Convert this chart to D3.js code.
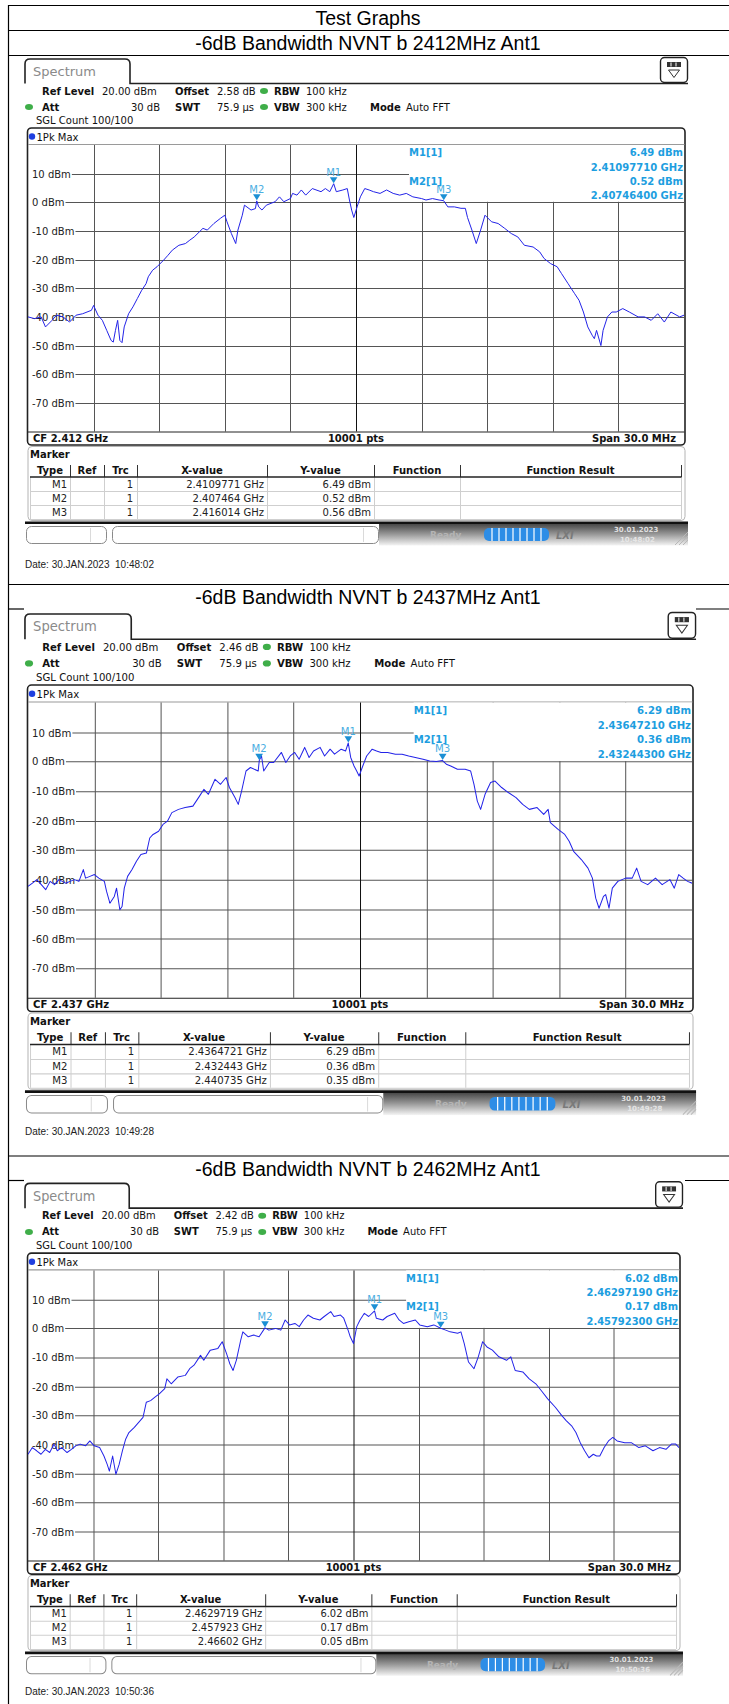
<!DOCTYPE html>
<html>
<head>
<meta charset="utf-8">
<script src="https://cdn.jsdelivr.net/npm/d3@7"></script>
<style>
  body { margin: 0; background: #fff; }
  svg { display: block; }
</style>
</head>
<body>
<div id="chart"></div>
<script>
// ---- data ----
var pageTitle = 'Test Graphs';
var panelTitles = ['-6dB Bandwidth NVNT b 2412MHz Ant1',
                   '-6dB Bandwidth NVNT b 2437MHz Ant1',
                   '-6dB Bandwidth NVNT b 2462MHz Ant1'];
var cfGHz = [2.412, 2.437, 2.462];
var offsetDb = ['2.58', '2.46', '2.42'];
var dateStamps = ['30.JAN.2023  10:48:02', '30.JAN.2023  10:49:28', '30.JAN.2023  10:50:36'];
var clockStamps = ['10:48:02', '10:49:28', '10:50:36'];
var markerNames = ['M1', 'M2', 'M3'];
var markerGHz = [[2.4109771, 2.407464, 2.416014],
                 [2.4364721, 2.432443, 2.440735],
                 [2.4629719, 2.457923, 2.46602]];
var markerDbm = [[6.49, 0.52, 0.56],
                 [6.29, 0.36, 0.35],
                 [6.02, 0.17, 0.05]];
var yTicks = [10, 0, -10, -20, -30, -40, -50, -60, -70];
var tableCols = ['Type', 'Ref', 'Trc', 'X-value', 'Y-value', 'Function', 'Function Result'];

// traces: [offset from CF in MHz, level in dBm]
var trace2412 = [[-15.0,-40.0],[-14.7,-40.6],[-14.4,-40.0],[-14.2,-43.5],[-13.9,-41.2],[-13.7,-39.4],[-13.4,-40.0],[-13.1,-41.8],
  [-12.8,-39.4],[-12.5,-38.9],[-12.1,-37.7],[-12.0,-36.0],[-11.8,-39.4],[-11.6,-41.2],[-11.4,-44.7],[-11.2,-48.2],[-11.1,-48.8],
  [-11.0,-44.7],[-10.9,-41.2],[-10.8,-48.2],[-10.7,-49.0],[-10.6,-43.5],[-10.4,-38.9],[-10.2,-36.5],[-10.0,-33.6],[-9.8,-30.7],
  [-9.6,-28.4],[-9.5,-26.0],[-9.3,-23.7],[-9.1,-22.5],[-8.8,-20.2],[-8.6,-18.5],[-8.4,-16.7],[-8.1,-15.0],[-7.8,-14.4],[-7.6,-13.2],
  [-7.4,-12.1],[-7.0,-9.1],[-6.8,-9.7],[-6.5,-7.4],[-6.2,-5.6],[-6.0,-4.5],[-5.9,-6.8],[-5.7,-10.9],[-5.5,-14.4],[-5.4,-9.7],
  [-5.2,-4.5],[-5.1,-1.0],[-4.8,-2.7],[-4.6,-2.2],[-4.54,0.5],[-4.45,-1.6],[-4.3,-2.7],[-4.1,-1.0],[-3.7,0.2],[-3.5,1.9],[-3.3,0.2],
  [-3.0,1.3],[-2.9,3.1],[-2.7,2.5],[-2.5,4.3],[-2.3,2.5],[-2.0,4.8],[-1.6,3.7],[-1.4,4.8],[-1.2,3.7],[-1.02,6.5],[-0.9,3.7],
  [-0.6,4.3],[-0.4,4.8],[-0.3,0.8],[-0.2,-2.7],[-0.1,-5.3],[0.05,-1.6],[0.2,1.9],[0.4,4.8],[0.6,4.3],[0.8,3.7],[1.1,3.1],
  [1.4,4.3],[1.7,3.1],[2.0,2.5],[2.3,3.1],[2.6,1.9],[3.0,1.3],[3.2,0.8],[3.5,1.3],[3.8,0.8],[4.01,0.56],[4.2,-1.6],[4.5,-1.6],
  [4.8,-2.1],[5.0,-2.1],[5.1,-5.3],[5.3,-9.7],[5.5,-14.4],[5.7,-9.7],[5.9,-4.5],[6.2,-6.8],[6.5,-7.4],[6.8,-9.1],[7.1,-10.9],
  [7.4,-12.1],[7.7,-15.0],[8.1,-15.6],[8.4,-17.3],[8.6,-19.6],[8.9,-21.4],[9.2,-22.5],[9.4,-24.9],[9.7,-28.4],[10.0,-31.9],
  [10.2,-34.2],[10.4,-38.3],[10.6,-43.5],[10.8,-46.4],[10.9,-47.6],[11.0,-44.7],[11.2,-50.0],[11.3,-44.7],[11.5,-40.0],
  [11.7,-38.3],[11.9,-38.3],[12.2,-37.1],[12.5,-38.3],[12.9,-40.0],[13.2,-40.0],[13.5,-41.2],[13.8,-38.9],[14.1,-41.8],
  [14.4,-38.3],[14.8,-40.0],[15.0,-39.4]];

var trace2437 = [[-15.0,-42.3],[-14.8,-41.2],[-14.6,-40.0],[-14.4,-41.7],[-14.2,-43.4],[-14.0,-40.6],[-13.8,-41.7],[-13.6,-40.0],
  [-13.3,-41.2],[-13.1,-40.6],[-12.9,-40.0],[-12.7,-40.6],[-12.5,-36.6],[-12.4,-39.5],[-12.2,-38.9],[-12.0,-38.3],[-11.8,-39.5],
  [-11.55,-40.6],[-11.45,-44.0],[-11.3,-48.0],[-11.1,-45.7],[-11.0,-42.9],[-10.85,-50.2],[-10.75,-49.1],[-10.65,-42.9],
  [-10.5,-38.9],[-10.3,-36.6],[-10.1,-33.8],[-9.9,-31.5],[-9.65,-31.0],[-9.5,-25.9],[-9.35,-24.7],[-9.1,-23.6],[-8.9,-21.3],
  [-8.7,-20.2],[-8.5,-17.3],[-8.2,-16.2],[-7.9,-15.6],[-7.55,-15.1],[-7.25,-11.7],[-7.05,-9.4],[-6.85,-11.1],[-6.55,-6.0],
  [-6.3,-7.7],[-6.05,-5.4],[-5.9,-8.8],[-5.65,-12.2],[-5.5,-14.5],[-5.35,-10.0],[-5.15,-3.2],[-4.95,-2.0],[-4.6,-3.2],
  [-4.55,0.4],[-4.45,1.9],[-4.35,-3.2],[-4.1,-0.3],[-3.9,-0.3],[-3.55,3.1],[-3.35,-0.3],[-3.15,1.9],[-2.95,3.1],[-2.75,0.8],
  [-2.5,4.8],[-2.3,1.4],[-2.1,3.6],[-1.8,4.8],[-1.6,1.9],[-1.35,4.2],[-1.15,2.5],[-0.85,4.2],[-0.65,3.6],[-0.53,6.3],
  [-0.42,1.4],[-0.27,-1.5],[-0.15,-3.2],[-0.04,-4.9],[0.1,-2.0],[0.3,1.9],[0.55,4.2],[0.75,3.6],[0.95,3.1],[1.25,3.1],
  [1.6,2.5],[1.9,2.5],[2.2,1.9],[2.5,1.4],[2.85,0.8],[3.15,0.2],[3.45,0.0],[3.73,0.35],[3.9,-0.9],[4.1,-1.5],[4.4,-2.6],
  [4.75,-2.6],[5.0,-3.2],[5.15,-7.7],[5.3,-13.4],[5.45,-16.2],[5.65,-11.1],[5.9,-7.1],[6.1,-6.6],[6.4,-8.8],[6.7,-10.5],
  [7.05,-12.2],[7.35,-14.5],[7.65,-16.2],[8.0,-15.6],[8.3,-17.9],[8.5,-16.2],[8.6,-20.7],[8.95,-23.0],[9.25,-24.7],[9.45,-27.0],
  [9.65,-30.4],[10.0,-33.2],[10.3,-36.1],[10.5,-39.5],[10.65,-46.3],[10.8,-49.7],[11.0,-45.7],[11.1,-45.1],[11.25,-49.7],
  [11.4,-42.9],[11.65,-40.6],[12.0,-39.5],[12.3,-39.5],[12.5,-36.1],[12.7,-40.6],[13.0,-41.7],[13.35,-39.5],[13.65,-41.7],
  [14.0,-40.0],[14.2,-42.9],[14.4,-38.3],[14.6,-39.5],[14.8,-40.6],[15.0,-41.2]];

var trace2462 = [[-15.0,-43.4],[-14.8,-41.1],[-14.6,-42.2],[-14.4,-43.4],[-14.2,-41.7],[-14.0,-42.8],[-13.8,-39.9],[-13.65,-42.2],
  [-13.45,-41.1],[-13.2,-42.8],[-13.0,-41.7],[-12.8,-40.5],[-12.6,-39.9],[-12.35,-40.5],[-12.15,-38.8],[-11.95,-40.5],
  [-11.7,-41.1],[-11.5,-44.0],[-11.35,-46.9],[-11.25,-49.2],[-11.1,-44.0],[-10.95,-50.3],[-10.8,-46.9],[-10.65,-42.2],
  [-10.5,-38.2],[-10.35,-35.9],[-10.1,-34.1],[-9.9,-32.4],[-9.7,-30.7],[-9.55,-25.5],[-9.35,-24.9],[-9.15,-23.7],[-8.95,-22.6],
  [-8.7,-20.8],[-8.6,-17.4],[-8.4,-19.1],[-8.1,-16.8],[-7.75,-16.2],[-7.55,-13.9],[-7.35,-12.7],[-7.05,-9.3],[-6.9,-11.0],
  [-6.6,-7.5],[-6.25,-6.9],[-6.05,-4.6],[-5.85,-8.7],[-5.7,-12.2],[-5.55,-14.5],[-5.4,-11.0],[-5.2,-4.1],[-5.1,-1.2],
  [-4.85,-2.9],[-4.6,-2.3],[-4.35,-2.9],[-4.08,0.17],[-3.9,-0.6],[-3.6,0.0],[-3.35,-0.6],[-3.15,2.9],[-2.95,1.2],[-2.7,1.7],
  [-2.5,0.6],[-2.3,2.9],[-2.1,4.6],[-1.85,3.5],[-1.55,2.9],[-1.35,4.1],[-1.05,5.8],[-0.9,4.1],[-0.6,4.6],[-0.45,3.5],
  [-0.25,-0.6],[-0.15,-2.9],[0.0,-5.2],[0.15,0.6],[0.3,2.9],[0.5,5.2],[0.7,4.1],[0.97,6.0],[1.05,3.5],[1.35,2.9],[1.55,4.1],
  [1.9,5.2],[2.1,2.9],[2.3,1.7],[2.55,2.3],[2.85,2.9],[3.05,1.2],[3.4,0.6],[3.7,1.2],[4.02,0.05],[4.25,-0.6],[4.45,-1.2],
  [4.8,-1.7],[4.95,-1.2],[5.1,-5.2],[5.3,-11.6],[5.55,-13.9],[5.75,-9.8],[5.95,-4.6],[6.15,-6.4],[6.4,-7.5],[6.7,-9.8],
  [7.05,-11.0],[7.25,-9.8],[7.45,-14.5],[7.8,-15.0],[8.1,-17.4],[8.4,-19.1],[8.65,-21.4],[8.95,-24.3],[9.3,-27.2],[9.6,-30.1],
  [9.8,-31.8],[10.05,-33.6],[10.25,-35.9],[10.45,-39.4],[10.65,-42.2],[10.85,-44.6],[11.05,-43.4],[11.2,-44.0],[11.35,-44.0],
  [11.55,-41.1],[11.75,-38.8],[11.95,-37.6],[12.15,-38.8],[12.5,-39.4],[12.8,-39.4],[13.15,-41.1],[13.45,-40.5],[13.8,-42.2],
  [14.1,-41.1],[14.4,-41.7],[14.65,-39.9],[14.85,-39.9],[15.0,-41.1]];

var traces = [trace2412, trace2437, trace2462];

// ---- page layout ----
var width = 729, height = 1704;
var panelTy = [0, 553.2, 1123.6], panelSx = [1, 1.0122, 0.9924], panelSy = [1, 1.03, 1.0123];
var titleRows = [30.5, 584.5, 1156];
var dateY = [568, 1135, 1695];

var svg = d3.select('#chart').append('svg')
  .attr('width', width)
  .attr('height', height)
  .style('font-family', '"DejaVu Sans", Verdana, sans-serif');

svg.append('rect').attr('width', width).attr('height', height).attr('fill', '#fff');

var defs = svg.append('defs');
var grad = defs.append('linearGradient').attr('id', 'statusGrad').attr('x1', 0).attr('y1', 0).attr('x2', 0).attr('y2', 1);
grad.append('stop').attr('offset', 0).attr('stop-color', '#444');
grad.append('stop').attr('offset', 0.5).attr('stop-color', '#9a9a9a');
grad.append('stop').attr('offset', 1).attr('stop-color', '#f4f4f4');

function drawPanel(i) {
  var g = svg.append('g')
    .attr('transform', 'translate(' + (28 * (1 - panelSx[i])) + ',' + panelTy[i] + ') scale(' + panelSx[i] + ',' + panelSy[i] + ')');

  var x = d3.scaleLinear().domain([-15, 15]).range([28, 684]);
  var y = d3.scaleLinear().domain([-80, 20]).range([431.5, 145]);
  var cf = cfGHz[i];

  // tab + menu icon
  g.append('path')
    .attr('d', 'M25,83.5 V64 Q25,59 30,59 H125 Q130,59 130,64 V83.5 H688')
    .attr('fill', 'none').attr('stroke', '#222').attr('stroke-width', 1.6);
  g.append('text').attr('x', 33).attr('y', 76).attr('font-size', 13).attr('fill', '#8a8a8a').text('Spectrum');
  g.append('rect').attr('x', 660.5).attr('y', 57.5).attr('width', 27).attr('height', 25).attr('rx', 4)
    .attr('fill', '#fff').attr('stroke', '#222').attr('stroke-width', 1.4);
  g.append('rect').attr('x', 667).attr('y', 62).attr('width', 14).attr('height', 5).attr('fill', '#333');
  [671, 676].forEach(function(gx) {
    g.append('line').attr('x1', gx).attr('x2', gx).attr('y1', 62.5).attr('y2', 66.5).attr('stroke', '#fff');
  });
  g.append('path').attr('d', 'M668.5,70 H679.5 L674,77.5 Z').attr('fill', 'none').attr('stroke', '#333').attr('stroke-width', 1);

  // header settings
  var hdr = g.append('g').attr('font-size', 10).attr('fill', '#111');
  function ht(tx, ty, s, bold, anchor) {
    hdr.append('text').attr('x', tx).attr('y', ty).attr('font-weight', bold ? 'bold' : null)
      .attr('text-anchor', anchor || 'start').text(s);
  }
  ht(42, 94.5, 'Ref Level', true); ht(102, 94.5, '20.00 dBm');
  ht(175, 94.5, 'Offset', true); ht(217, 94.5, offsetDb[i] + ' dB');
  ht(274, 94.5, 'RBW', true); ht(306, 94.5, '100 kHz');
  ht(42, 110.5, 'Att', true); ht(160, 110.5, '30 dB', false, 'end');
  ht(175, 110.5, 'SWT', true); ht(217, 110.5, '75.9 µs');
  ht(274, 110.5, 'VBW', true); ht(306, 110.5, '300 kHz');
  ht(370, 110.5, 'Mode', true); ht(406, 110.5, 'Auto FFT');
  ht(36, 124, 'SGL Count 100/100');
  [[29, 107], [264, 91], [264, 107]].forEach(function(p) {
    g.append('ellipse').attr('cx', p[0]).attr('cy', p[1]).attr('rx', 4).attr('ry', 3).attr('fill', '#3fae49');
  });

  // diagram frame
  g.append('rect').attr('x', 27.5).attr('y', 128).attr('width', 657.5).attr('height', 317).attr('rx', 4)
    .attr('fill', '#fff').attr('stroke', '#222').attr('stroke-width', 1.6);
  g.append('line').attr('x1', 28).attr('x2', 684.5).attr('y1', 144.5).attr('y2', 144.5).attr('stroke', '#9a9a9a');
  g.append('circle').attr('cx', 32).attr('cy', 136.5).attr('r', 3.2).attr('fill', '#1f3fe0');
  g.append('text').attr('x', 36.5).attr('y', 140.5).attr('font-size', 10).attr('fill', '#111').text('1Pk Max');

  // grid
  var grid = g.append('g').attr('stroke', '#555').attr('stroke-width', 1);
  grid.selectAll('.vx').data([-12, -9, -6, -3, 3, 6, 9, 12]).enter().append('line')
    .attr('x1', function(d) { return Math.round(x(d)) + 0.5; })
    .attr('x2', function(d) { return Math.round(x(d)) + 0.5; })
    .attr('y1', y(20)).attr('y2', y(-80));
  var labels = g.append('g').attr('font-size', 10).attr('fill', '#222');
  yTicks.forEach(function(t) {
    var ly = Math.round(y(t)) + 0.5;
    var lab = labels.append('text').attr('x', 32).attr('y', ly + 3.5).text(t + ' dBm');
    var end = 32 + lab.node().getComputedTextLength() + 1;
    grid.append('line').attr('x1', end).attr('x2', 684).attr('y1', ly).attr('y2', ly);
  });
  // marker readout area hides the upper right of the grid
  g.append('rect').attr('x', 409).attr('y', 145).attr('width', 275).attr('height', y(0) - 145.5).attr('fill', '#fff');
  g.append('line').attr('x1', Math.round(x(0)) + 0.5).attr('x2', Math.round(x(0)) + 0.5)
    .attr('y1', y(20)).attr('y2', y(-80)).attr('stroke', '#111');
  g.append('line').attr('x1', 28).attr('x2', 684.5).attr('y1', 432).attr('y2', 432).attr('stroke', '#222');

  // trace
  var clipId = 'clip' + i;
  defs.append('clipPath').attr('id', clipId).append('rect')
    .attr('x', 28).attr('y', 145).attr('width', 656).attr('height', 287);
  var line = d3.line().x(function(d) { return x(d[0]); }).y(function(d) { return y(d[1]); });
  g.append('path').datum(traces[i]).attr('clip-path', 'url(#' + clipId + ')')
    .attr('d', line).attr('fill', 'none').attr('stroke', '#2323e8').attr('stroke-width', 1)
    .attr('stroke-linejoin', 'round');

  // markers
  var mk = markerNames.map(function(n, k) {
    return { name: n, off: (markerGHz[i][k] - cf) * 1000, dbm: markerDbm[i][k], ghz: markerGHz[i][k] };
  });
  mk.forEach(function(m) {
    var px = x(m.off), py = y(m.dbm);
    g.append('path').attr('d', 'M' + (px - 3.8) + ',' + (py - 6.5) + ' H' + (px + 3.8) + ' L' + px + ',' + (py - 0.5) + ' Z')
      .attr('fill', '#1b8fd4');
    g.append('text').attr('x', px).attr('y', py - 8).attr('text-anchor', 'middle')
      .attr('font-size', 10).attr('fill', '#4aaee2').text(m.name);
  });

  // marker readout
  var info = g.append('g').attr('font-size', 10).attr('font-weight', 'bold').attr('fill', '#1d9ee0');
  info.append('text').attr('x', 409).attr('y', 156).text('M1[1]');
  info.append('text').attr('x', 409).attr('y', 184.5).text('M2[1]');
  info.append('text').attr('x', 683).attr('y', 156).attr('text-anchor', 'end').text(d3.format('.2f')(mk[0].dbm) + ' dBm');
  info.append('text').attr('x', 683).attr('y', 170.5).attr('text-anchor', 'end').text(d3.format('.8f')(mk[0].ghz) + ' GHz');
  info.append('text').attr('x', 683).attr('y', 184.5).attr('text-anchor', 'end').text(d3.format('.2f')(mk[1].dbm) + ' dBm');
  info.append('text').attr('x', 683).attr('y', 199).attr('text-anchor', 'end').text(d3.format('.8f')(mk[1].ghz) + ' GHz');

  // footer of diagram
  var foot = g.append('g').attr('font-size', 10).attr('font-weight', 'bold').attr('fill', '#111');
  foot.append('text').attr('x', 33).attr('y', 442).text('CF ' + d3.format('.3f')(cf) + ' GHz');
  foot.append('text').attr('x', 356).attr('y', 442).attr('text-anchor', 'middle').text('10001 pts');
  foot.append('text').attr('x', 676).attr('y', 442).attr('text-anchor', 'end').text('Span 30.0 MHz');

  // marker table
  g.append('rect').attr('x', 28).attr('y', 446.5).attr('width', 657).attr('height', 74).attr('rx', 4)
    .attr('fill', '#fff').attr('stroke', '#b4b4b4');
  g.append('text').attr('x', 30).attr('y', 458).attr('font-size', 10).attr('font-weight', 'bold').attr('fill', '#111').text('Marker');
  var colX = [30, 70, 104, 137, 267, 374, 460, 681];
  var tbl = g.append('g').attr('font-size', 10).attr('fill', '#222');
  tableCols.forEach(function(c, k) {
    tbl.append('text').attr('x', (colX[k] + colX[k + 1]) / 2).attr('y', 474).attr('text-anchor', 'middle')
      .attr('font-weight', 'bold').attr('fill', '#111').text(c);
  });
  colX.slice(1).forEach(function(cx) {
    tbl.append('line').attr('x1', cx + 0.5).attr('x2', cx + 0.5).attr('y1', 465).attr('y2', 477).attr('stroke', '#333');
    tbl.append('line').attr('x1', cx + 0.5).attr('x2', cx + 0.5).attr('y1', 477).attr('y2', 519).attr('stroke', '#cfcfcf');
  });
  tbl.append('line').attr('x1', 30.5).attr('x2', 30.5).attr('y1', 477).attr('y2', 519).attr('stroke', '#cfcfcf');
  [491, 505, 519].forEach(function(ry) {
    tbl.append('line').attr('x1', 30).attr('x2', 681).attr('y1', ry + 0.5).attr('y2', ry + 0.5).attr('stroke', '#cfcfcf');
  });
  tbl.append('line').attr('x1', 30).attr('x2', 681.5).attr('y1', 477).attr('y2', 477).attr('stroke', '#222').attr('stroke-width', 1.4);
  mk.forEach(function(m, k) {
    var ry = 487.5 + k * 14;
    tbl.append('text').attr('x', 67).attr('y', ry).attr('text-anchor', 'end').text(m.name);
    tbl.append('text').attr('x', 133).attr('y', ry).attr('text-anchor', 'end').text('1');
    tbl.append('text').attr('x', 264).attr('y', ry).attr('text-anchor', 'end').text(String(m.ghz) + ' GHz');
    tbl.append('text').attr('x', 371).attr('y', ry).attr('text-anchor', 'end').text(d3.format('.2f')(m.dbm) + ' dBm');
  });

  // status bar
  g.append('rect').attr('x', 379).attr('y', 523.5).attr('width', 309).attr('height', 22).attr('fill', 'url(#statusGrad)');
  g.append('line').attr('x1', 25).attr('x2', 688).attr('y1', 522.8).attr('y2', 522.8).attr('stroke', '#111').attr('stroke-width', 2.6);
  [[26, 107, 90], [112, 379, 363]].forEach(function(b) {
    g.append('rect').attr('x', b[0] + 0.5).attr('y', 526.5).attr('width', b[1] - b[0] - 1).attr('height', 17).attr('rx', 5)
      .attr('fill', '#fff').attr('stroke', '#8a8a8a');
    g.append('line').attr('x1', b[2] + 0.5).attr('x2', b[2] + 0.5).attr('y1', 528).attr('y2', 542).attr('stroke', '#dadada');
  });
  g.append('text').attr('x', 430).attr('y', 538).attr('font-size', 9).attr('font-weight', 'bold').attr('fill', '#b4b4b4').text('Ready');
  g.append('rect').attr('x', 484).attr('y', 528).attr('width', 65).attr('height', 13).attr('rx', 5).attr('fill', '#2d8de6');
  d3.range(492, 545, 7).forEach(function(sx) {
    g.append('line').attr('x1', sx).attr('x2', sx).attr('y1', 528).attr('y2', 541).attr('stroke', '#fff').attr('stroke-width', 1.2);
  });
  g.append('text').attr('x', 556).attr('y', 539).attr('font-size', 10).attr('font-style', 'italic').attr('font-weight', 'bold')
    .attr('fill', '#7a7a7a').text('LXI');
  g.append('text').attr('x', 614).attr('y', 532).attr('font-size', 7).attr('font-weight', 'bold').attr('fill', '#dedede').text('30.01.2023');
  g.append('text').attr('x', 620).attr('y', 542).attr('font-size', 7).attr('font-weight', 'bold').attr('fill', '#e6e6e6').text(clockStamps[i]);
  [0, 4, 8].forEach(function(o) {
    g.append('line').attr('x1', 675 + o).attr('y1', 545).attr('x2', 688).attr('y2', 532 + o).attr('stroke', '#b8b8b8');
  });
}

// document table frame and titles
var frame = svg.append('g').attr('stroke', '#000').attr('stroke-width', 1.2);
frame.append('line').attr('x1', 8.5).attr('x2', 8.5).attr('y1', 5).attr('y2', height);
frame.append('line').attr('x1', 8).attr('x2', width).attr('y1', 5.5).attr('y2', 5.5);
svg.append('text').attr('x', 368).attr('y', 25).attr('text-anchor', 'middle')
  .attr('font-family', '"Liberation Sans", Arial, sans-serif').attr('font-size', 19.5).attr('fill', '#000').text(pageTitle);

panelTitles.forEach(function(t, i) {
  var top = titleRows[i];
  frame.append('line').attr('x1', 8).attr('x2', width).attr('y1', top).attr('y2', top);
  if (i === 0) {
    frame.append('line').attr('x1', 8).attr('x2', width).attr('y1', top + 25).attr('y2', top + 25);
  } else {
    frame.append('line').attr('x1', 8).attr('x2', 24).attr('y1', top + 24.5).attr('y2', top + 24.5);
    frame.append('line').attr('x1', i === 1 ? 696 : 685).attr('x2', width).attr('y1', top + 24.5).attr('y2', top + 24.5);
  }
  svg.append('text').attr('x', 368).attr('y', top + 19.5).attr('text-anchor', 'middle')
    .attr('font-family', '"Liberation Sans", Arial, sans-serif').attr('font-size', 19.5).attr('fill', '#000').text(t);
  drawPanel(i);
  svg.append('text').attr('x', 25).attr('y', dateY[i])
    .attr('font-family', '"Liberation Sans", Arial, sans-serif').attr('font-size', 10).attr('fill', '#222')
    .attr('xml:space', 'preserve').style('white-space', 'pre').text('Date: ' + dateStamps[i]);
});
</script>
</body>
</html>
